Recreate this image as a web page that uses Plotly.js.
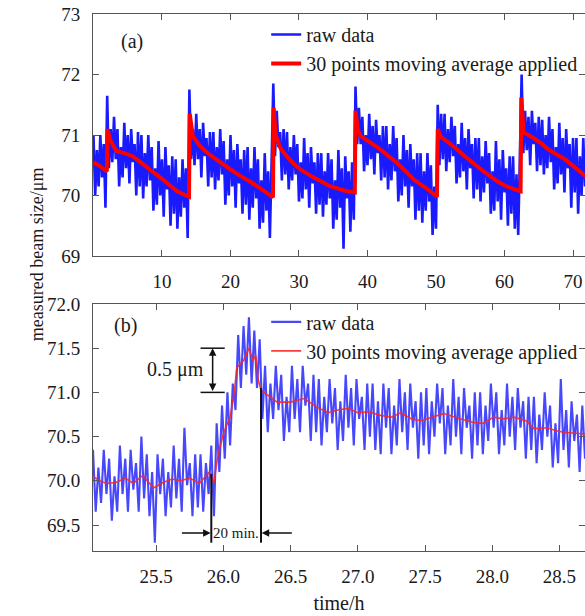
<!DOCTYPE html>
<html>
<head>
<meta charset="utf-8">
<script src="https://cdn.plot.ly/plotly-3.0.1.min.js"></script>
<style>html,body{margin:0;padding:0;background:#fff;}#chart{width:585px;height:616px;}</style>
</head>
<body>
<div id="chart"></div>
<script>
// ---------- Panel (a): raw data, sampled every 0.25 h, one segment per refill cycle ----------
const rawAStep = 0.25;
const rawAStart = [0, 2.0, 14.0, 26.25, 38.25, 50.25, 62.5];
const rawASeg0 = [71.0, 70.0, 70.75, 70.15, 71.0, 70.3, 70.85, 69.8];
const rawASeg1 = [71.65, 70.45, 71.1, 70.55, 71.3, 70.6, 71.1, 70.15, 70.8, 70.3, 71.2, 70.45, 71.0, 70.2, 71.1, 70.55, 70.85, 70.0, 71.05, 70.15, 71.0, 69.95, 70.7, 70.15, 71.0, 70.25, 70.8, 69.75, 70.45, 69.85, 70.9, 70.0, 70.6, 69.65, 70.8, 70.1, 70.5, 69.5, 70.65, 69.7, 70.6, 69.45, 70.3, 69.65, 70.6, 69.8, 70.45, 69.3];
const rawASeg2 = [71.75, 70.6, 71.1, 70.5, 71.35, 70.6, 71.1, 70.3, 71.2, 70.65, 70.95, 70.15, 71.05, 70.3, 71.05, 70.1, 70.8, 70.25, 71.1, 70.35, 70.9, 69.85, 70.6, 70.0, 71.0, 70.15, 70.75, 69.8, 70.85, 70.2, 70.6, 69.7, 70.75, 69.85, 70.8, 69.6, 70.45, 69.8, 70.8, 69.95, 70.6, 69.45, 70.25, 69.55, 70.7, 69.75, 70.4, 69.3, 70.55];
const rawASeg3 = [71.85, 70.65, 71.4, 70.8, 71.05, 70.25, 71.1, 70.35, 71.05, 70.1, 70.8, 70.25, 71.0, 70.35, 70.85, 69.9, 70.55, 69.95, 70.95, 70.1, 70.7, 69.8, 70.8, 70.2, 70.55, 69.7, 70.7, 69.85, 70.7, 69.65, 70.4, 69.85, 70.7, 69.95, 70.6, 69.45, 70.25, 69.6, 70.75, 69.8, 70.45, 69.12, 70.65, 69.95, 70.4, 69.4, 70.55, 69.6];
const rawASeg4 = [71.8, 70.85, 71.45, 70.85, 71.3, 70.4, 71.0, 70.5, 71.35, 70.6, 71.15, 70.35, 71.25, 70.7, 71.0, 70.25, 71.15, 70.3, 71.15, 70.1, 70.85, 70.25, 71.15, 70.4, 70.95, 69.9, 70.6, 70.0, 71.0, 70.15, 70.75, 69.8, 70.85, 70.15, 70.6, 69.6, 70.7, 69.75, 70.7, 69.55, 70.4, 69.75, 70.7, 69.9, 70.5, 69.35, 70.15, 69.45];
const rawASeg5 = [71.5, 70.5, 71.35, 70.6, 71.35, 70.4, 71.1, 70.55, 71.3, 70.65, 71.15, 70.2, 70.85, 70.3, 71.2, 70.4, 70.95, 70.1, 71.1, 70.45, 70.85, 69.95, 70.95, 70.1, 70.95, 69.9, 70.65, 70.05, 70.9, 70.2, 70.7, 69.7, 70.4, 69.75, 70.9, 69.9, 70.6, 69.6, 70.75, 70.05, 70.45, 69.5, 70.65, 69.7, 70.65, 69.45, 70.35, 69.35, 70.65];
const rawASeg6 = [72.0, 70.7, 71.4, 70.75, 71.3, 70.5, 71.4, 70.85, 71.2, 70.4, 71.3, 70.5, 71.25, 70.35, 71.0, 70.45, 71.3, 70.55, 71.1, 70.1, 70.8, 70.2, 71.2, 70.35, 70.95, 70.05, 71.1, 70.45, 70.85, 69.8, 70.95, 70.05, 70.95, 69.7, 70.65, 70.0, 70.95, 70.15, 70.7];

// ---------- Panel (a): 30-point moving average ----------
const avgATime = [0, 1, 1.95, 2.05, 2.4, 3.0, 3.4, 4.5, 5.7, 7.0, 8.2, 9.5, 10.7, 12.2, 13.95, 14.05, 14.5, 15.6, 17, 18.5, 20, 21.5, 23, 25, 26.2, 26.3, 26.6, 27.3, 28.2, 29.2, 30.2, 32.1, 34.6, 37, 38.15, 38.25, 38.6, 39.0, 40.5, 41.9, 43.1, 44.3, 45.5, 46.8, 48.8, 50.15, 50.25, 50.7, 51.8, 53, 54.2, 55.4, 56.6, 57.8, 59.0, 60.3, 61.5, 62.35, 62.45, 62.8, 63.5, 64.5, 65.5, 66.4, 67.6, 68.8, 70, 71.2, 72];
const avgASize = [70.55, 70.48, 70.4, 71.1, 70.93, 70.8, 70.73, 70.7, 70.65, 70.54, 70.43, 70.32, 70.21, 70.07, 69.98, 71.35, 70.98, 70.81, 70.67, 70.55, 70.43, 70.32, 70.22, 70.07, 69.97, 71.45, 71.0, 70.78, 70.65, 70.53, 70.43, 70.3, 70.15, 70.07, 70.05, 71.4, 71.08, 70.98, 70.87, 70.76, 70.65, 70.54, 70.41, 70.26, 70.1, 69.98, 71.1, 70.97, 70.88, 70.77, 70.65, 70.54, 70.43, 70.33, 70.23, 70.15, 70.1, 70.07, 71.62, 71.04, 71.0, 70.93, 70.85, 70.76, 70.68, 70.6, 70.49, 70.38, 70.3];

// ---------- Panel (b): raw data, sampled every 0.02 h ----------
const rawBStep = 0.02;
const rawBStart = [25.03, 25.95, 26.31];
const rawBSeg0 = [70.35, 69.65, 70.15, 69.75, 70.35, 69.85, 70.25, 69.55, 70.05, 69.65, 70.4, 69.85, 70.25, 69.65, 70.35, 69.9, 70.2, 69.65, 70.5, 69.8, 70.3, 69.6, 70.1, 69.3, 70.3, 69.85, 70.25, 69.6, 70.1, 69.7, 70.4, 69.8, 70.25, 69.65, 70.6, 69.95, 70.2, 69.6, 70.3, 69.7, 70.3, 69.65, 70.2, 69.85, 70.4, 69.6];
const rawBSeg1 = [70.65, 70.1, 70.85, 70.25, 71.0, 70.4, 71.1, 70.8, 71.65, 71.05, 71.75, 71.2, 71.85, 71.1, 71.7, 71.05, 71.6, 70.7];
const rawBSeg2 = [71.3, 70.55, 71.1, 70.7, 71.3, 70.8, 71.2, 70.45, 70.95, 70.55,
  71.3, 70.7, 71.15, 70.55, 71.3, 70.85, 71.1, 70.45, 71.2, 70.55,
  71.15, 70.4, 70.95, 70.55, 71.15, 70.65, 71.05, 70.35, 70.9, 70.45,
  71.2, 70.6, 71.05, 70.4, 71.15, 70.7, 70.95, 70.35, 71.1, 70.5,
  71.1, 70.35, 70.9, 70.3, 71.1, 70.6, 71.05, 70.3, 70.85, 70.4,
  71.15, 70.55, 71.0, 70.35, 71.1, 70.6, 70.9, 70.25, 71.0, 70.4,
  71.05, 70.3, 70.9, 70.5, 71.1, 70.65, 71.05, 70.3, 70.85, 70.4,
  71.15, 70.5, 70.95, 70.3, 71.05, 70.6, 70.85, 70.25, 71.0, 70.4,
  71.0, 70.3, 70.85, 70.45, 71.1, 70.6, 71.0, 70.3, 70.8, 70.4,
  71.1, 70.5, 70.95, 70.35, 71.05, 70.6, 70.9, 70.25, 70.95, 70.35,
  70.95, 70.2, 70.75, 70.35, 71.0, 70.5, 70.85, 70.15, 70.65, 70.2,
  71.15, 70.35, 70.8, 70.15, 70.9, 70.45, 70.75, 70.1, 70.85, 70.25];

// ---------- Panel (b): 30-point moving average ----------
const avgBTime = [25.03, 25.08, 25.13, 25.2, 25.27, 25.33, 25.4, 25.48, 25.55, 25.62, 25.68, 25.75, 25.82, 25.89, 25.93, 25.95, 25.97, 26.0, 26.03, 26.05, 26.08, 26.1, 26.13, 26.15, 26.19, 26.22, 26.24, 26.26, 26.28, 26.33, 26.4, 26.5, 26.6, 26.7, 26.78, 26.85, 26.93, 27.0, 27.08, 27.17, 27.25, 27.32, 27.4, 27.47, 27.55, 27.64, 27.74, 27.86, 27.93, 28.01, 28.08, 28.16, 28.25, 28.31, 28.41, 28.47, 28.53, 28.6, 28.69];
const avgBSize = [70.05, 70.0, 69.97, 69.98, 70.03, 69.97, 70.06, 69.92, 69.98, 70.02, 70.0, 70.03, 69.97, 70.09, 69.98, 70.2, 70.36, 70.53, 70.65, 70.72, 70.99, 71.28, 71.33, 71.36, 71.5, 71.36, 71.42, 71.14, 71.02, 70.97, 70.89, 70.89, 70.93, 70.83, 70.77, 70.8, 70.82, 70.77, 70.78, 70.74, 70.72, 70.77, 70.7, 70.68, 70.72, 70.76, 70.71, 70.66, 70.65, 70.72, 70.7, 70.72, 70.68, 70.59, 70.6, 70.57, 70.55, 70.54, 70.53];

// tick labels
const xTicksA = [10, 20, 30, 40, 50, 60, 70];
const yTicksA = [69, 70, 71, 72, 73];
const xTicksB = [25.5, 26.0, 26.5, 27.0, 27.5, 28.0, 28.5];
const yTicksB = [69.5, 70.0, 70.5, 71.0, 71.5, 72.0];

const seriesNames = ['raw data', '30 points moving average applied'];

// ---------- build sample times from segment starts ----------
function joinSegments(starts, segs, step) {
  const t = [], y = [];
  segs.forEach((s, k) => s.forEach((v, i) => { t.push(+(starts[k] + i * step).toFixed(3)); y.push(v); }));
  return {t, y};
}
const rawA = joinSegments(rawAStart, [rawASeg0, rawASeg1, rawASeg2, rawASeg3, rawASeg4, rawASeg5, rawASeg6], rawAStep);
const rawB = joinSegments(rawBStart, [rawBSeg0, rawBSeg1, rawBSeg2], rawBStep);

const FONT = 'Liberation Serif, Times New Roman, serif';
const TXT = '#1a1a1a';
const axisBase = {
  showline: true, linecolor: '#555', linewidth: 1, mirror: 'ticks',
  ticks: 'inside', ticklen: 6, tickcolor: '#555', tickwidth: 1,
  showgrid: false, zeroline: false,
  tickfont: {family: FONT, size: 19, color: TXT}
};

const traces = [
  {x: rawA.t, y: rawA.y, xaxis: 'x', yaxis: 'y', type: 'scatter', mode: 'lines', name: seriesNames[0],
   line: {color: '#1a1aff', width: 2.6, simplify: false}, legend: 'legend'},
  {x: avgATime, y: avgASize, xaxis: 'x', yaxis: 'y', type: 'scatter', mode: 'lines', name: seriesNames[1],
   line: {color: '#ff0000', width: 4, simplify: false}, legend: 'legend'},
  {x: rawB.t, y: rawB.y, xaxis: 'x2', yaxis: 'y2', type: 'scatter', mode: 'lines', name: seriesNames[0],
   line: {color: 'rgba(25,25,250,0.8)', width: 2.1, simplify: false}, legend: 'legend2'},
  {x: avgBTime, y: avgBSize, xaxis: 'x2', yaxis: 'y2', type: 'scatter', mode: 'lines', name: seriesNames[1],
   line: {color: 'rgba(245,40,40,0.9)', width: 1.6, simplify: false}, legend: 'legend2'}
];

const legendBase = {xanchor: 'left', yanchor: 'top', bgcolor: 'rgba(0,0,0,0)', borderwidth: 0,
  font: {family: FONT, size: 20, color: TXT}, traceorder: 'normal', tracegroupgap: 0};

const layout = {
  width: 585, height: 616,
  margin: {l: 93, r: 0, t: 14, b: 65},
  paper_bgcolor: '#fff', plot_bgcolor: '#fff',
  showlegend: true,
  legend: Object.assign({x: 0.352, y: 0.998}, legendBase),
  legend2: Object.assign({x: 0.352, y: 0.463}, legendBase),
  xaxis: Object.assign({}, axisBase, {domain: [0, 1], range: [-0.07, 71.75], tickvals: xTicksA, anchor: 'y', ticklabelstandoff: 8}),
  yaxis: Object.assign({}, axisBase, {domain: [0.5493, 1], range: [69, 73], tickvals: yTicksA, anchor: 'x', ticklabelstandoff: 8}),
  xaxis2: Object.assign({}, axisBase, {domain: [0, 1], range: [25.03, 28.69], tickvals: xTicksB,
    ticktext: xTicksB.map(v => v.toFixed(1)), anchor: 'y2', ticklabelstandoff: 8,
    title: {text: 'time/h', font: {family: FONT, size: 20, color: TXT}, standoff: 10}}),
  yaxis2: Object.assign({}, axisBase, {domain: [0, 0.46], range: [69.206, 72.0], tickvals: yTicksB,
    ticktext: yTicksB.map(v => v.toFixed(1)), anchor: 'x2', ticklabelstandoff: 8}),
  annotations: [
    {xref: 'paper', yref: 'paper', x: -0.138, y: 0.553, text: 'measured beam size/μm', textangle: -90,
     showarrow: false, font: {family: FONT, size: 18, color: TXT}},
    {xref: 'x', yref: 'y', x: 5.6, y: 72.55, text: '(a)', showarrow: false, font: {family: FONT, size: 20, color: TXT}},
    {xref: 'x2', yref: 'y2', x: 25.27, y: 71.76, text: '(b)', showarrow: false, font: {family: FONT, size: 20, color: TXT}},
    {xref: 'x2', yref: 'y2', x: 25.64, y: 71.26, text: '0.5 μm', showarrow: false, font: {family: FONT, size: 20, color: TXT}},
    {xref: 'x2', yref: 'y2', x: 25.92, y: 71.5, ax: 25.92, ay: 71.0, axref: 'x2', ayref: 'y2', text: '',
     showarrow: true, arrowhead: 2, arrowside: 'end+start', arrowsize: 1, arrowwidth: 1.5, arrowcolor: '#111', standoff: 0, startstandoff: 0},
    {xref: 'x2', yref: 'y2', x: 25.905, y: 69.41, ax: 25.68, ay: 69.41, axref: 'x2', ayref: 'y2', text: '',
     showarrow: true, arrowhead: 2, arrowsize: 1, arrowwidth: 1.5, arrowcolor: '#111', standoff: 0},
    {xref: 'x2', yref: 'y2', x: 26.285, y: 69.41, ax: 26.52, ay: 69.41, axref: 'x2', ayref: 'y2', text: '',
     showarrow: true, arrowhead: 2, arrowsize: 1, arrowwidth: 1.5, arrowcolor: '#111', standoff: 0},
    {xref: 'x2', yref: 'y2', x: 26.095, y: 69.41, text: '20 min.', showarrow: false,
     font: {family: FONT, size: 15, color: TXT}}
  ],
  shapes: [
    {type: 'line', xref: 'x2', yref: 'y2', x0: 25.83, x1: 26.01, y0: 71.5, y1: 71.5, line: {color: '#111', width: 1.5}},
    {type: 'line', xref: 'x2', yref: 'y2', x0: 25.83, x1: 26.01, y0: 71.0, y1: 71.0, line: {color: '#111', width: 1.5}},
    {type: 'line', xref: 'x2', yref: 'y2', x0: 25.91, x1: 25.91, y0: 69.3, y1: 70.08, line: {color: '#111', width: 2}},
    {type: 'line', xref: 'x2', yref: 'y2', x0: 26.28, x1: 26.28, y0: 69.3, y1: 71.05, line: {color: '#111', width: 2}}
  ]
};

Plotly.newPlot('chart', traces, layout, {staticPlot: true, displayModeBar: false});
</script>
</body>
</html>
